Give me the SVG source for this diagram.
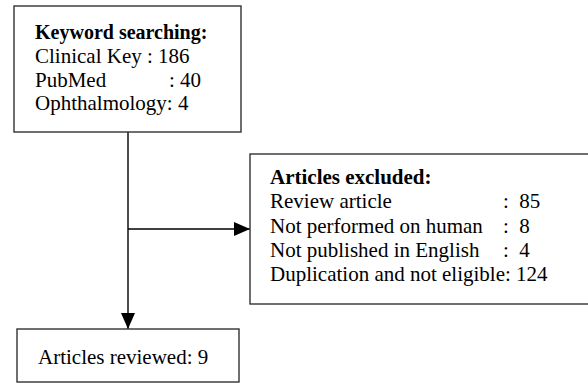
<svg xmlns="http://www.w3.org/2000/svg" width="588" height="383" viewBox="0 0 588 383">
<style>
.box{fill:#fff;stroke:#333;stroke-width:1.4}
.t{font-family:"Liberation Serif","Times New Roman",serif;font-size:21px;fill:#000}
.b{font-weight:bold}
.c{stroke:#000;stroke-width:1.4;fill:none}
</style>
<defs>
<marker id="ah" markerUnits="userSpaceOnUse" markerWidth="16" markerHeight="14" refX="16" refY="7" orient="auto">
<path d="M0,0 L16,7 L0,14 Z" fill="#000"/>
</marker>
</defs>
<rect width="588" height="383" fill="#fff"/>
<g id="connectors">
<line class="c" x1="128" y1="132" x2="128" y2="329" marker-end="url(#ah)"/>
<line class="c" x1="128" y1="229" x2="250" y2="229" marker-end="url(#ah)"/>
</g>
<g id="keyword">
<rect class="box" x="14" y="6" width="227" height="126"/>
<text class="t b" x="35" y="39" style="font-size:20px">Keyword searching:</text>
<text class="t" x="35" y="63">Clinical Key : 186</text>
<text class="t" x="35" y="87">PubMed<tspan x="169">: 40</tspan></text>
<text class="t" x="35" y="110">Ophthalmology: 4</text>
</g>
<g id="excluded">
<rect class="box" x="250" y="154" width="345" height="150"/>
<text class="t b" x="270" y="184">Articles excluded:</text>
<text class="t" x="270" y="208">Review article<tspan x="503" xml:space="preserve">:  85</tspan></text>
<text class="t" x="270" y="233">Not performed on human<tspan x="503" xml:space="preserve">:  8</tspan></text>
<text class="t" x="270" y="257">Not published in English<tspan x="503" xml:space="preserve">:  4</tspan></text>
<text class="t" x="270" y="281">Duplication and not eligible: 124</text>
</g>
<g id="reviewed">
<rect class="box" x="17" y="329" width="222" height="53"/>
<text class="t" x="38" y="364">Articles reviewed: 9</text>
</g>
</svg>
